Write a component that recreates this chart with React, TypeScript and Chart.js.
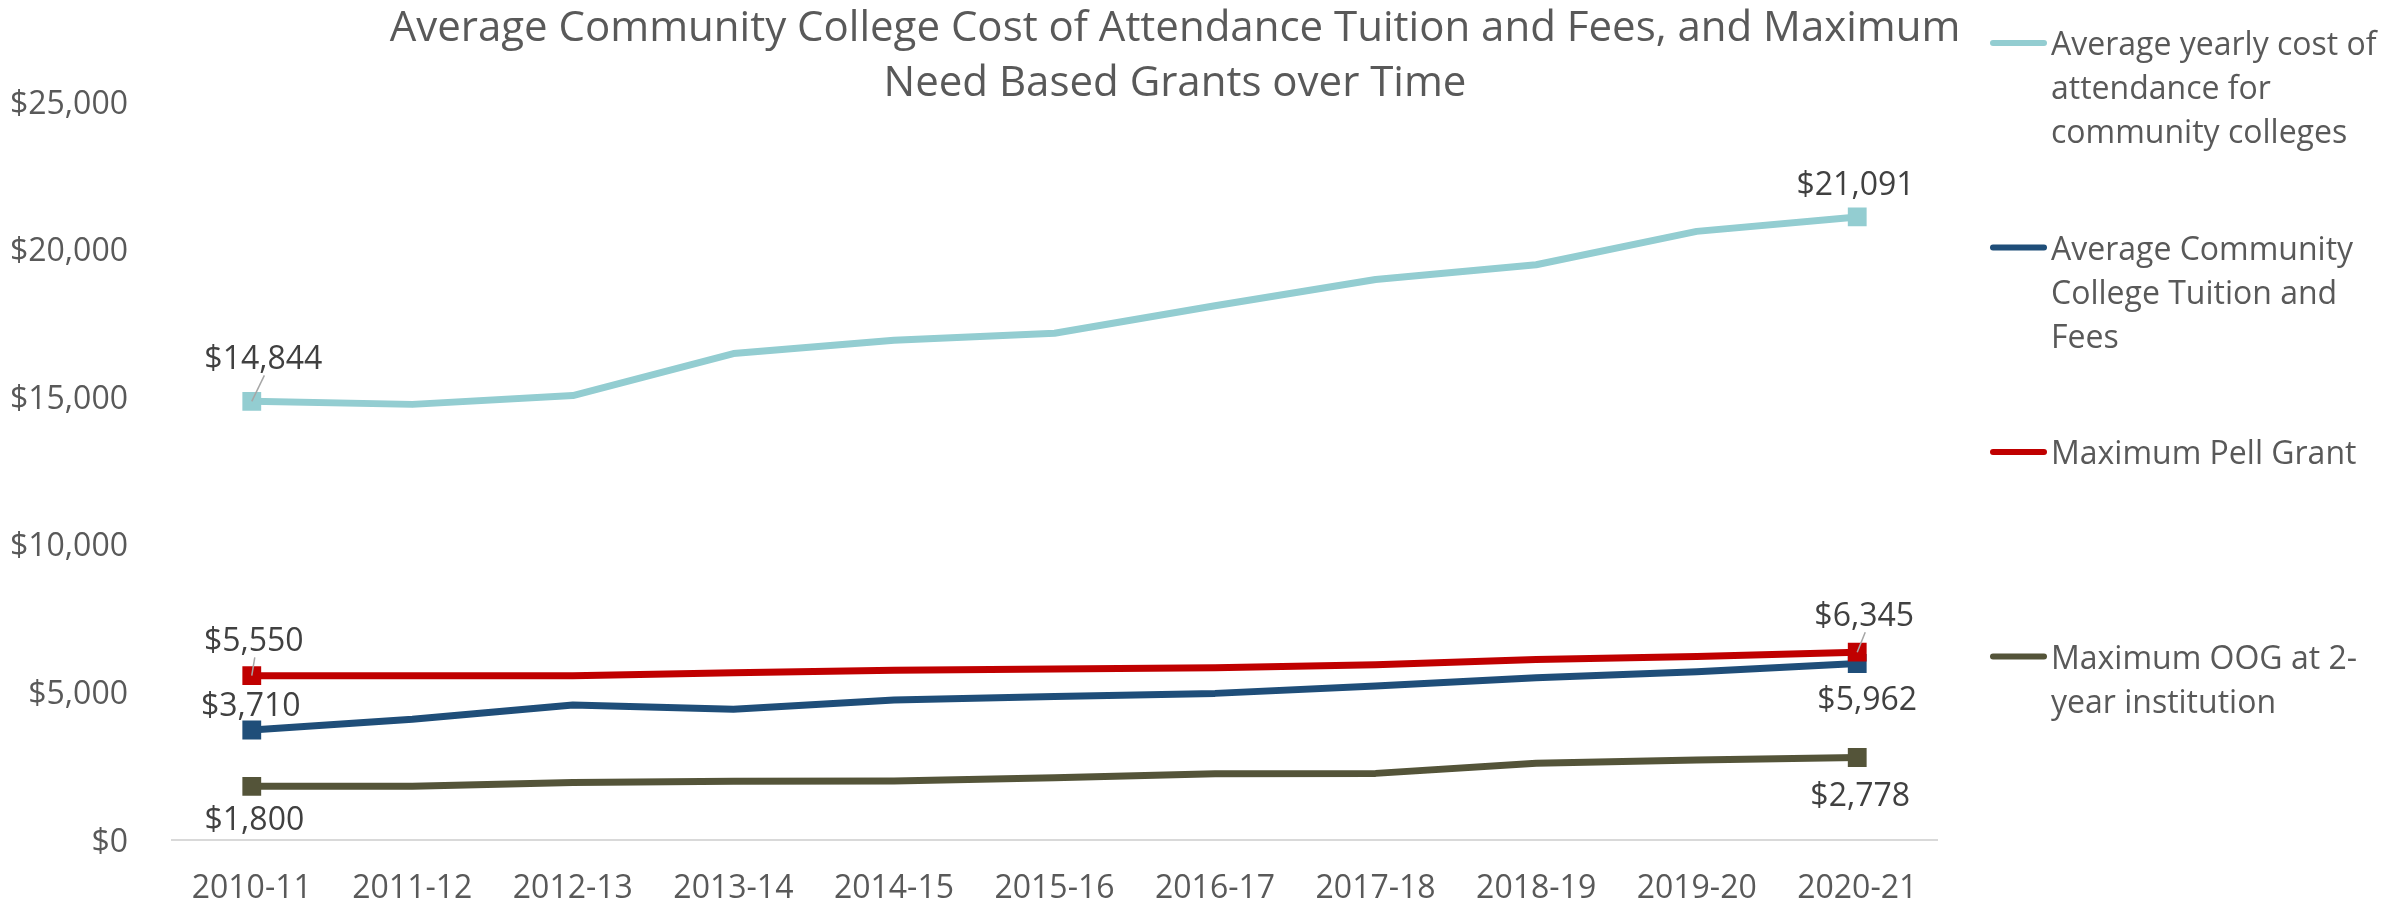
import React, { useEffect, useRef } from "react";
import { Chart, registerables } from "chart.js";

Chart.register(...registerables);

// ---------- DATA ----------
const categories = [
  "2010-11", "2011-12", "2012-13", "2013-14", "2014-15", "2015-16",
  "2016-17", "2017-18", "2018-19", "2019-20", "2020-21",
];
const costOfAttendance = [14844, 14740, 15040, 16460, 16910, 17150, 18080, 18970, 19470, 20600, 21091];
const tuitionAndFees = [3710, 4070, 4555, 4410, 4725, 4845, 4950, 5200, 5480, 5685, 5962];
const maxPellGrant = [5550, 5550, 5550, 5645, 5730, 5775, 5815, 5920, 6095, 6195, 6345];
const maxOOG = [1800, 1800, 1930, 1975, 1985, 2090, 2230, 2240, 2580, 2690, 2778];

const seriesNames = [
  "Average yearly cost of attendance for community colleges",
  "Average Community College Tuition and Fees",
  "Maximum Pell Grant",
  "Maximum OOG at 2-year institution",
];
const legendLines = [
  ["Average yearly cost of", "attendance for", "community colleges"],
  ["Average Community", "College Tuition and", "Fees"],
  ["Maximum Pell Grant"],
  ["Maximum OOG at 2-", "year institution"],
];
const titleLines = [
  "Average Community College Cost of Attendance Tuition and Fees, and Maximum",
  "Need Based Grants over Time",
];
const yTickValues = [0, 5000, 10000, 15000, 20000, 25000];

// ---------- STYLE ----------
const colors = ["#93CDD1", "#1F4E79", "#C00000", "#545439"];
const FONT = "'Open Sans', 'DejaVu Sans', sans-serif";
const fmt = (v: number) => "$" + Math.round(v).toLocaleString("en-US");

// label placement for first / last point of each series: [dx, dy, leader]
const labelPlacement: [number, number, boolean][][] = [
  [[11.6, -45, true], [-1.7, -35.3, false]],
  [[-1, -26.7, false], [10, 33.8, false]],
  [[2, -37.4, true], [7, -39, true]],
  [[2.6, 30.3, false], [3, 35.8, false]],
];

const overlayPlugin = {
  id: "overlay",
  afterDatasetsDraw(chart: any) {
    const ctx = chart.ctx;
    ctx.save();
    // data labels
    ctx.font = `32px ${FONT}`;
    ctx.textAlign = "center";
    ctx.textBaseline = "middle";
    chart.data.datasets.forEach((ds: any, di: number) => {
      const meta = chart.getDatasetMeta(di);
      const idxs = [0, ds.data.length - 1];
      idxs.forEach((idx, k) => {
        const pt = meta.data[idx];
        const [dx, dy, leader] = labelPlacement[di][k];
        const lx = pt.x + dx;
        const ly = pt.y + dy;
        if (leader) {
          ctx.strokeStyle = "#A6A6A6";
          ctx.lineWidth = 1.5;
          ctx.beginPath();
          ctx.moveTo(pt.x, pt.y);
          ctx.lineTo(lx + 1, ly + (dy < 0 ? 19 : -19));
          ctx.stroke();
        }
        ctx.fillStyle = "#404040";
        ctx.fillText(fmt(ds.data[idx]), lx, ly + 4);
      });
    });
    ctx.restore();
  },
  afterDraw(chart: any) {
    const ctx = chart.ctx;
    ctx.save();
    // title
    ctx.fillStyle = "#595959";
    ctx.font = `42px ${FONT}`;
    ctx.textAlign = "center";
    ctx.textBaseline = "middle";
    titleLines.forEach((t, i) => ctx.fillText(t, 1175, 29 + i * 55));
    // legend
    ctx.textAlign = "left";
    ctx.font = `32px ${FONT}`;
    legendLines.forEach((lines, i) => {
      const y0 = 43 + i * 204.5;
      ctx.strokeStyle = colors[i];
      ctx.lineWidth = 6;
      ctx.lineCap = "round";
      ctx.beginPath();
      ctx.moveTo(1993, y0);
      ctx.lineTo(2044, y0);
      ctx.stroke();
      ctx.fillStyle = "#595959";
      lines.forEach((l, j) => ctx.fillText(l, 2051, y0 + 3 + j * 44));
    });
    ctx.restore();
  },
};

export default function App() {
  const ref = useRef<HTMLCanvasElement>(null);
  useEffect(() => {
    document.body.style.margin = "0";
    const seriesData = [costOfAttendance, tuitionAndFees, maxPellGrant, maxOOG];
    const n = categories.length;
    const chart = new Chart(ref.current as HTMLCanvasElement, {
      type: "line",
      data: {
        labels: categories,
        datasets: seriesData.map((d, i) => ({
          label: seriesNames[i],
          data: d,
          borderColor: colors[i],
          backgroundColor: colors[i],
          borderWidth: 7,
          borderJoinStyle: "round" as const,
          borderCapStyle: "round" as const,
          tension: 0,
          pointStyle: "rect" as const,
          pointRadius: (c: any) => (c.dataIndex === 0 || c.dataIndex === n - 1 ? 13.3 : 0),
          pointBackgroundColor: colors[i],
          pointBorderWidth: 0,
          order: seriesData.length - i,
        })),
      },
      options: {
        responsive: false,
        animation: false,
        layout: { padding: { left: 0, right: 449.5, top: 101.5, bottom: 0 } },
        plugins: {
          legend: { display: false },
          title: { display: false },
          tooltip: { enabled: false },
        },
        font: { family: FONT },
        scales: {
          x: {
            type: "category",
            offset: true,
            grid: { display: false, drawTicks: false },
            border: { display: true, color: "#D9D9D9", width: 2 },
            ticks: {
              color: "#595959",
              font: { family: FONT, size: 32 },
              padding: 30,
              maxRotation: 0,
              autoSkip: false,
            },
            afterFit: (s: any) => {
              s.height = 63.5;
            },
          },
          y: {
            min: 0,
            max: 25000,
            grid: { display: false, drawTicks: false },
            border: { display: false },
            afterBuildTicks: (s: any) => {
              s.ticks = yTickValues.map((v) => ({ value: v }));
            },
            ticks: {
              color: "#595959",
              font: { family: FONT, size: 32 },
              padding: 43.5,
              labelOffset: 3,
              callback: (v: any) => fmt(Number(v)),
            },
            afterFit: (s: any) => {
              s.width = 171.5;
            },
          },
        },
      } as any,
      plugins: [overlayPlugin],
    });
    return () => chart.destroy();
  }, []);
  return <canvas ref={ref} width={2387} height={903} style={{ display: "block" }} />;
}
